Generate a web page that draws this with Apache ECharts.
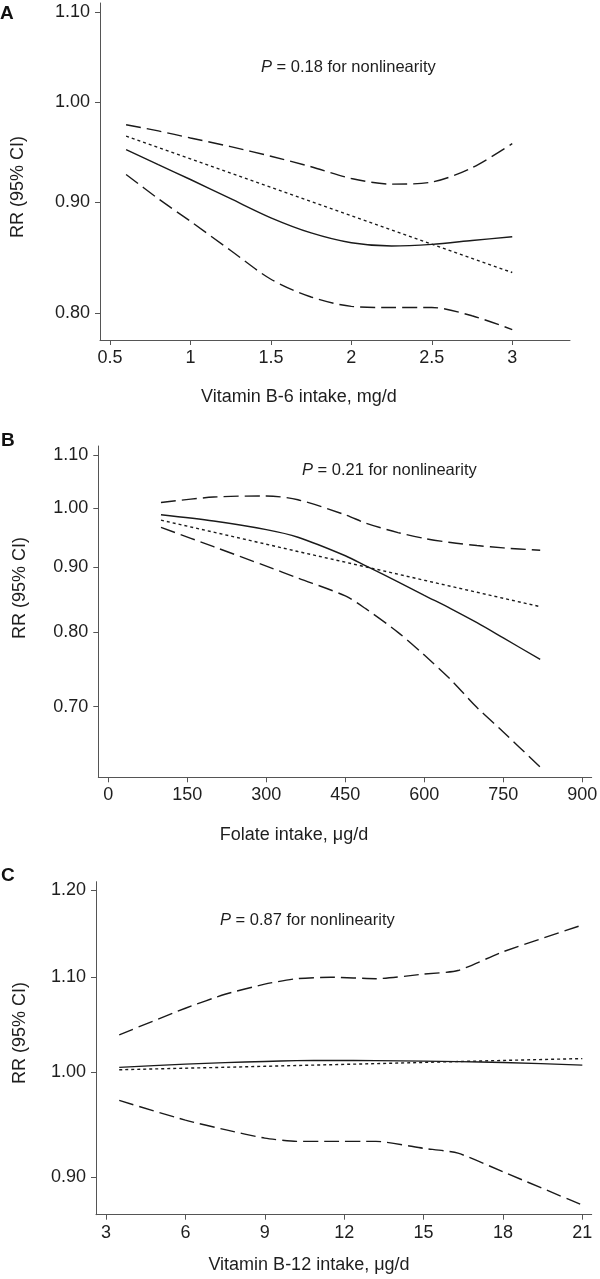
<!DOCTYPE html>
<html>
<head>
<meta charset="utf-8">
<script src="https://cdn.jsdelivr.net/npm/echarts@6/dist/echarts.min.js"></script>
<style>
html,body{margin:0;padding:0;background:#fff;}
#chart{width:600px;height:1279px;}
</style>
</head>
<body>
<div id="chart"></div>
<script>
// ---------- Panel A: Vitamin B-6 ----------
const b6Intake = [0.6, 0.8, 1.0, 1.25, 1.5, 1.75, 2.0, 2.25, 2.5, 2.75, 3.0];
const b6RR     = [0.951, 0.936, 0.9215, 0.903, 0.885, 0.871, 0.862, 0.859, 0.8605, 0.864, 0.8675];
const b6Linear = [0.9646, 0.9531, 0.9418, 0.9277, 0.9139, 0.9003, 0.8869, 0.8737, 0.8607, 0.8479, 0.8353];
const b6Upper  = [0.9764, 0.970, 0.9628, 0.954, 0.9444, 0.934, 0.9225, 0.917, 0.919, 0.933, 0.957];
const b6Lower  = [0.9264, 0.903, 0.8817, 0.855, 0.8294, 0.814, 0.806, 0.805, 0.805, 0.798, 0.7865];
const b6XTicks = [0.5, 1, 1.5, 2, 2.5, 3];
const b6YTicks = [0.80, 0.90, 1.00, 1.10];

// ---------- Panel B: Folate ----------
const folIntake = [100, 200, 300, 360, 450, 490, 550, 600, 650, 700, 750, 820];
const folRR     = [0.988, 0.977, 0.962, 0.949, 0.918, 0.901, 0.876, 0.855, 0.835, 0.814, 0.792, 0.762];
const folLinear = [0.9786, 0.9577, 0.9372, 0.925, 0.9074, 0.8996, 0.8881, 0.8784, 0.869, 0.8597, 0.8505, 0.8378];
const folUpper  = [1.010, 1.020, 1.022, 1.015, 0.988, 0.973, 0.957, 0.947, 0.940, 0.935, 0.931, 0.927];
const folLower  = [0.966, 0.933, 0.901, 0.882, 0.854, 0.834, 0.800, 0.768, 0.735, 0.699, 0.669, 0.628];
const folXTicks = [0, 150, 300, 450, 600, 750, 900];
const folYTicks = [0.70, 0.80, 0.90, 1.00, 1.10];

// ---------- Panel C: Vitamin B-12 ----------
const b12Intake = [3.5, 6, 7.5, 9, 10.2, 11.5, 13.2, 15, 16.3, 18, 21];
const b12RR     = [1.0047, 1.008, 1.0095, 1.0107, 1.0115, 1.0118, 1.0115, 1.011, 1.0105, 1.0097, 1.007];
const b12Linear = [1.0023, 1.0039, 1.0048, 1.0058, 1.0066, 1.0074, 1.0085, 1.0097, 1.0106, 1.0117, 1.0136];
const b12Upper  = [1.038, 1.066, 1.081, 1.092, 1.098, 1.0996, 1.098, 1.103, 1.107, 1.128, 1.1586];
const b12Lower  = [0.972, 0.953, 0.944, 0.936, 0.933, 0.933, 0.933, 0.9265, 0.922, 0.905, 0.8753];
const b12XTicks = [3, 6, 9, 12, 15, 18, 21];
const b12YTicks = [0.90, 1.00, 1.10, 1.20];

const panelLetters = ['A', 'B', 'C'];
const pTexts = ['0.18', '0.21', '0.87'];
const xTitles = ['Vitamin B-6 intake, mg/d', 'Folate intake, \u03bcg/d', 'Vitamin B-12 intake, \u03bcg/d'];
const yTitle = 'RR (95% CI)';

const FONT = '"Liberation Sans", Arial, Helvetica, sans-serif';
const TXT = '#1e1e1e';
const AX = '#555555';
const LINE = '#1a1a1a';

const panels = [
  {x: b6Intake, rr: b6RR, lin: b6Linear, up: b6Upper, lo: b6Lower, xt: b6XTicks, yt: b6YTicks,
   grid: {left: 100, top: 3, width: 470, height: 337}, xmin: 0.4378, xmax: 3.359, ymin: -0.2512, ymax: 0.1046, smooth: 0.3},
  {x: folIntake, rr: folRR, lin: folLinear, up: folUpper, lo: folLower, xt: folXTicks, yt: folYTicks,
   grid: {left: 98.3, top: 446, width: 493.4, height: 331.3}, xmin: -19.0, xmax: 917.8, ymin: -0.4834, ymax: 0.1115, smooth: 0.3},
  {x: b12Intake, rr: b12RR, lin: b12Linear, up: b12Upper, lo: b12Lower, xt: b12XTicks, yt: b12YTicks,
   grid: {left: 96, top: 881.7, width: 495.7, height: 333}, xmin: 2.622, xmax: 21.355, ymin: -0.1428, ymax: 0.1906, smooth: 0.2}
];

const grids = [], xAxes = [], yAxes = [], series = [];
panels.forEach((p, i) => {
  grids.push(Object.assign({containLabel: false, outerBoundsMode: 'none'}, p.grid));
  xAxes.push({
    type: 'value', gridIndex: i, min: p.xmin, max: p.xmax,
    axisLine: {show: true, onZero: false, lineStyle: {color: AX, width: 1}},
    axisTick: {show: true, length: 5, lineStyle: {color: AX}, customValues: p.xt},
    axisLabel: {customValues: p.xt, color: TXT, fontFamily: FONT, fontSize: 18, margin: 9},
    splitLine: {show: false}
  });
  const ytl = p.yt.map(v => Math.log(v));
  yAxes.push({
    type: 'value', gridIndex: i, min: p.ymin, max: p.ymax,
    axisLine: {show: true, onZero: false, lineStyle: {color: AX, width: 1}},
    axisTick: {show: true, length: 5, lineStyle: {color: AX}, customValues: ytl},
    axisLabel: {customValues: ytl, color: TXT, fontFamily: FONT, fontSize: 18, margin: 10,
      formatter: function (v) {
        let best = 0, bd = 1e9;
        p.yt.forEach((t, k) => { const d = Math.abs(Math.log(t) - v); if (d < bd) { bd = d; best = k; } });
        return p.yt[best].toFixed(2);
      }},
    splitLine: {show: false}
  });
  const mk = (arr, kind, dash) => ({
    type: 'line', xAxisIndex: i, yAxisIndex: i,
    data: p.x.map((xv, k) => [xv, Math.log(arr[k])]),
    showSymbol: false, symbol: 'none', smooth: kind === 'dotted' ? false : p.smooth,
    lineStyle: {color: LINE, width: 1.4, type: dash},
    silent: true, animation: false, z: 3
  });
  series.push(mk(p.up, 'dash', [15, 6]));
  series.push(mk(p.lo, 'dash', [15, 6]));
  series.push(mk(p.lin, 'dotted', [3, 3]));
  series.push(mk(p.rr, 'solid', 'solid'));
});

const letterPos = [[0, 14], [1, 441], [1, 876]];
const pPos = [[261, 67], [302, 470], [220, 920]];
const xtPos = [[299, 397], [294, 835], [309, 1265]];
const ytPos = [[18, 187], [20, 588], [20, 1033]];

const graphic = [];
panels.forEach((p, i) => {
  graphic.push({type: 'text', x: letterPos[i][0], y: letterPos[i][1],
    style: {text: panelLetters[i], font: 'bold 19px ' + FONT, fill: '#111', textAlign: 'left', textVerticalAlign: 'middle'}});
  graphic.push({type: 'text', x: pPos[i][0], y: pPos[i][1],
    style: {text: '{i|P} = ' + pTexts[i] + ' for nonlinearity', fill: TXT, fontFamily: FONT, fontSize: 16.5,
      textAlign: 'left', textVerticalAlign: 'middle',
      rich: {i: {fontStyle: 'italic', fontFamily: FONT, fontSize: 16.5, fill: TXT}}}});
  graphic.push({type: 'text', x: xtPos[i][0], y: xtPos[i][1],
    style: {text: xTitles[i], fill: TXT, fontFamily: FONT, fontSize: 18, textAlign: 'center', textVerticalAlign: 'middle'}});
  graphic.push({type: 'text', x: ytPos[i][0], y: ytPos[i][1], rotation: Math.PI / 2,
    style: {text: yTitle, fill: TXT, fontFamily: FONT, fontSize: 18, textAlign: 'center', textVerticalAlign: 'middle'}});
});

const chart = echarts.init(document.getElementById('chart'), null, {renderer: 'canvas'});
chart.setOption({
  animation: false,
  backgroundColor: '#ffffff',
  grid: grids, xAxis: xAxes, yAxis: yAxes, series: series, graphic: graphic
});
</script>
</body>
</html>
